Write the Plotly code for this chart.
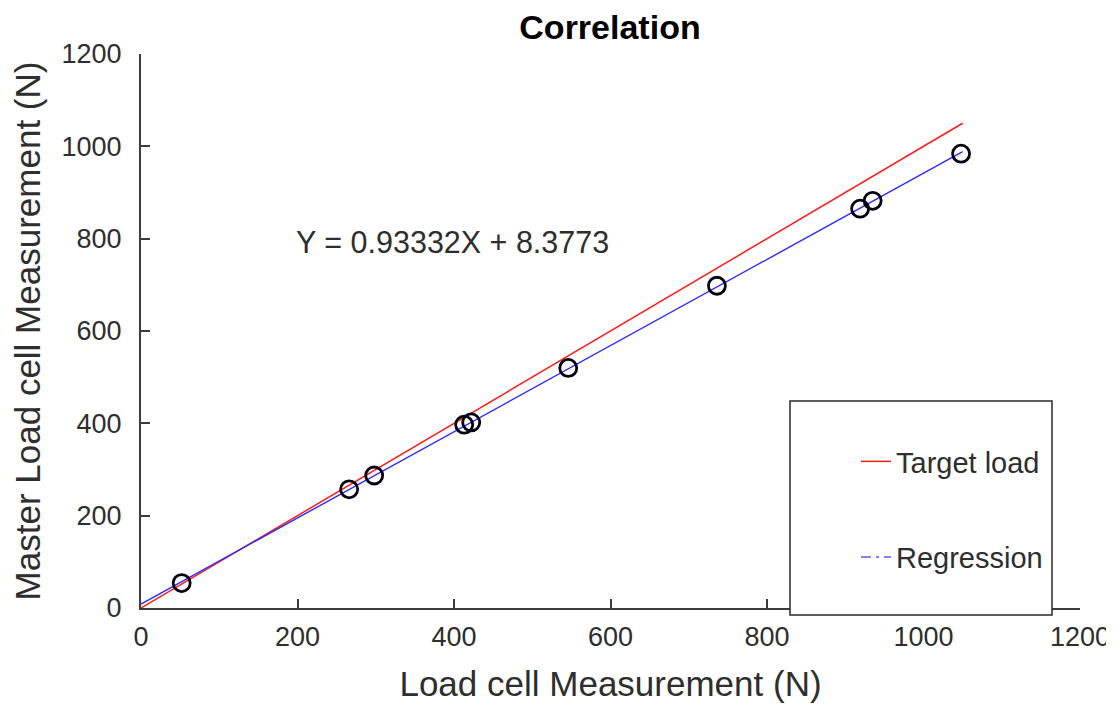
import plotly.graph_objects as go

load_cell = [52, 266, 298, 413, 422, 546, 736, 919, 935, 1048]
master_cell = [54, 257, 287, 397, 402, 520, 698, 865, 882, 984]

# Target load line (y = x) endpoints
target_x = [0, 1050]
target_y = [0, 1050]

# Regression line endpoints
reg_x = [0, 1050]
reg_y = [8.38, 988.37]

equation_text = "Y = 0.93332X + 8.3773"
title_text = "Correlation"
x_title = "Load cell Measurement (N)"
y_title = "Master Load cell Measurement (N)"
tick_vals = [0, 200, 400, 600, 800, 1000, 1200]
tick_text = ["0", "200", "400", "600", "800", "1000", "1200"]

FONT = "Liberation Sans, Arial, sans-serif"
AXIS_COLOR = "#3c3c3c"
TEXT_COLOR = "#2e2e2e"

# page body has an 8px margin: figure is sized/positioned to compensate
W, H = 1106, 696
ML, MR, MT, MB = 133, 34, 46, 96
PW = W - ML - MR
PH = H - MT - MB


def px_x(px):
    return (px - 8 - ML) / PW


def px_y(py):
    return (H - MB - (py - 8)) / PH


fig = go.Figure()

fig.add_trace(go.Scatter(
    x=target_x, y=target_y, mode="lines", name="Target load",
    line=dict(color="#ff1a1a", width=1.5), legendgroup="target",
    hoverinfo="skip",
))
fig.add_trace(go.Scatter(
    x=reg_x, y=reg_y, mode="lines", name="Regression",
    line=dict(color="#2a2aff", width=1.4), legendgroup="reg",
    showlegend=False, hoverinfo="skip",
))
# legend entry for regression (dash-dot as in the reference legend)
fig.add_trace(go.Scatter(
    x=[None], y=[None], mode="lines", name="Regression",
    line=dict(color="#5a5aff", width=1.6, dash="10px,5px,3px,5px"),
    legendgroup="reg",
))
fig.add_trace(go.Scatter(
    x=load_cell, y=master_cell, mode="markers", name="Data",
    marker=dict(symbol="circle-open", size=17, color="#000010",
                line=dict(width=2.8, color="#000010")),
    showlegend=False,
))

fig.add_annotation(
    x=196, y=793, xref="x", yref="y", text=equation_text,
    showarrow=False, xanchor="left", yanchor="middle",
    font=dict(family=FONT, size=30.5, color=TEXT_COLOR),
)

# legend frame (white box, drawn over the axis line like the original)
fig.add_shape(
    type="rect", xref="paper", yref="paper",
    x0=px_x(790), x1=px_x(1052),
    y0=px_y(615), y1=px_y(401),
    line=dict(color="#2a2a2a", width=1.5), fillcolor="white", layer="above",
)

axis_common = dict(
    range=[0, 1200], tickmode="array", tickvals=tick_vals, ticktext=tick_text,
    showline=True, linecolor=AXIS_COLOR, linewidth=2, mirror=False,
    ticks="inside", ticklen=9, tickwidth=1.5, tickcolor=AXIS_COLOR,
    showgrid=False, zeroline=False,
    tickfont=dict(family=FONT, size=27, color=TEXT_COLOR),
)

fig.update_xaxes(
    **axis_common,
    title=dict(text=x_title, font=dict(family=FONT, size=35, color=TEXT_COLOR), standoff=20),
    ticklabelstandoff=4,
)
fig.update_yaxes(
    **axis_common,
    title=dict(text=y_title, font=dict(family=FONT, size=35, color=TEXT_COLOR), standoff=14),
    ticklabelstandoff=12,
)

fig.update_layout(
    width=W, height=H,
    margin=dict(l=ML, r=MR, t=MT, b=MB, autoexpand=False),
    paper_bgcolor="white", plot_bgcolor="white",
    title=dict(text=title_text, x=(610 - 8) / W, xanchor="center",
               y=1 - (27 - 8) / H, yanchor="middle",
               font=dict(family=FONT, size=34, color="#000000", weight="bold")),
    showlegend=True,
    legend=dict(
        x=px_x(856), xanchor="left",
        y=px_y(436), yanchor="top",
        bgcolor="rgba(0,0,0,0)", borderwidth=0,
        font=dict(family=FONT, size=29, color=TEXT_COLOR),
        tracegroupgap=55, itemwidth=30,
    ),
)

fig.write_html("out.html")
